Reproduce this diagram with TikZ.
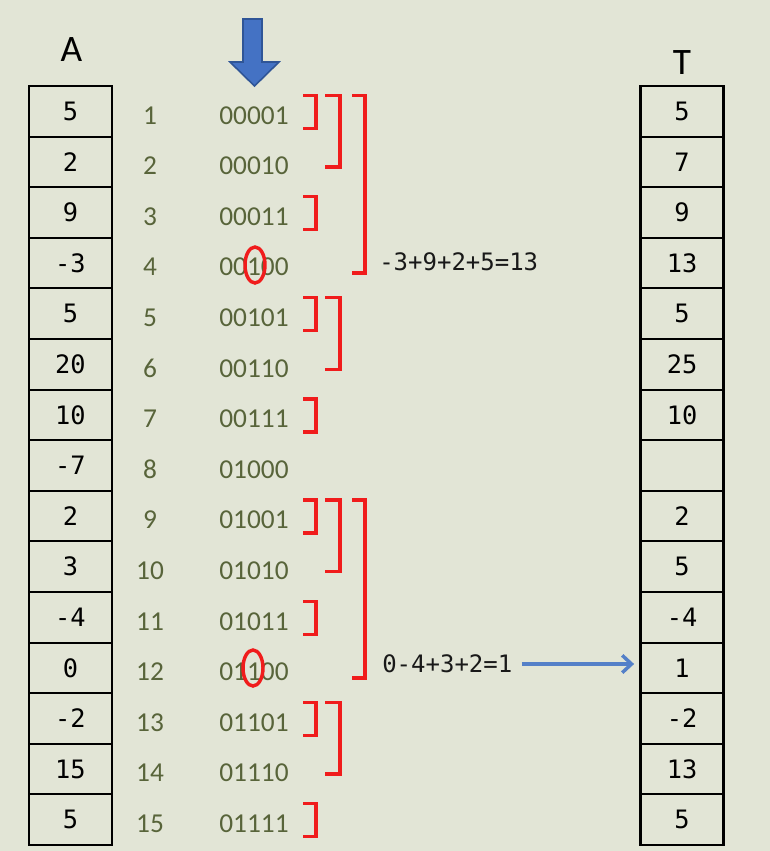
\documentclass[tikz,border=0pt]{standalone}
\usepackage{fontspec}
\setmainfont{Carlito}
\newfontfamily\monof{DejaVu Sans Mono}
\usetikzlibrary{arrows.meta}
\definecolor{bg}{RGB}{226,229,214}
\definecolor{olivetxt}{RGB}{88,100,58}
\definecolor{bred}{RGB}{240,28,28}
\definecolor{bblue}{RGB}{68,114,196}
\definecolor{bbluedark}{RGB}{47,85,151}
\definecolor{abblue}{RGB}{84,128,200}
\def\rc#1{(86+50.6*(#1-0.5))}
\begin{document}
\begin{tikzpicture}[x=0.75pt,y=-0.75pt,
  cell/.style={draw=black,line width=1.6pt,minimum width=62.25pt,minimum height=37.95pt,inner sep=0pt,font=\monof\fontsize{19}{19}\selectfont},
  idx/.style={text=olivetxt,font=\fontsize{20.5}{20.5}\selectfont,inner sep=0pt},
  brk/.style={draw=bred,line width=2.6pt},
  sumtxt/.style={font=\monof\fontsize{18}{18}\selectfont,inner sep=0pt,text=black!90},
  lbl/.style={font=\fontsize{28}{28}\selectfont,inner sep=0pt}
]
\fill[bg] (0,0) rectangle (770,851);
\useasboundingbox (0,0) rectangle (770,851);
% labels
\node[lbl] (labA) at (71.5,50) {A};
\node[lbl] (labT) at (682,63) {T};
% big arrow
\filldraw[fill=bblue,draw=bbluedark,line width=1.2pt]
  (243,19) -- (262,19) -- (262,62) -- (279,62) -- (254.5,86) -- (230,62) -- (243,62) -- cycle;
% array A
\foreach \v [count=\i] in {5,2,9,-3,5,20,10,-7,2,3,-4,0,-2,15,5}
  \node[cell] (a\i) at (70.5,{\rc{\i}}) {\v};
% array T
\foreach \v [count=\i] in {5,7,9,13,5,25,10,{},2,5,-4,1,-2,13,5}
  \node[cell] (t\i) at (682,{\rc{\i}}) {\v};
% indices and binary
\foreach \b [count=\i] in {00001,00010,00011,00100,00101,00110,00111,01000,01001,01010,01011,01100,01101,01110,01111}{
  \node[idx] (n\i) at (150,{\rc{\i}+4}) {\i};
  \node[idx] (b\i) at (254,{\rc{\i}+4}) {\b};
}
% brackets level 1
\foreach \i in {1,3,...,15}
  \draw[brk] (303,{\rc{\i}-16}) -- (316,{\rc{\i}-16}) -- (316,{\rc{\i}+17}) -- (303,{\rc{\i}+17});
% brackets level 2
\foreach \i in {1,5,9,13}
  \draw[brk] (325,{\rc{\i}-16}) -- (340,{\rc{\i}-16}) -- (340,{\rc{\i}+50.6+5}) -- (325,{\rc{\i}+50.6+5});
% brackets level 3
\foreach \i in {1,9}
  \draw[brk] (352,{\rc{\i}-16}) -- (365,{\rc{\i}-16}) -- (365,{\rc{\i}+3*50.6+10}) -- (352,{\rc{\i}+3*50.6+10});
% ellipses
\draw[bred,line width=2.6pt] (255,265) ellipse [x radius=7.5pt,y radius=13.5pt];
\draw[bred,line width=2.6pt] (253,668) ellipse [x radius=7.5pt,y radius=13.5pt];
% sums
\node[sumtxt,anchor=west] (s1) at (379,262) {-3+9+2+5=13};
\node[sumtxt,anchor=west] (s2) at (382,664) {0-4+3+2=1};
\draw[abblue,line width=2.6pt,-{Straight Barb[length=7pt,width=13pt]},shorten <=7pt,shorten >=4pt]
  (s2.east) -- (s2.east -| t12.west);
\end{tikzpicture}
\end{document}
